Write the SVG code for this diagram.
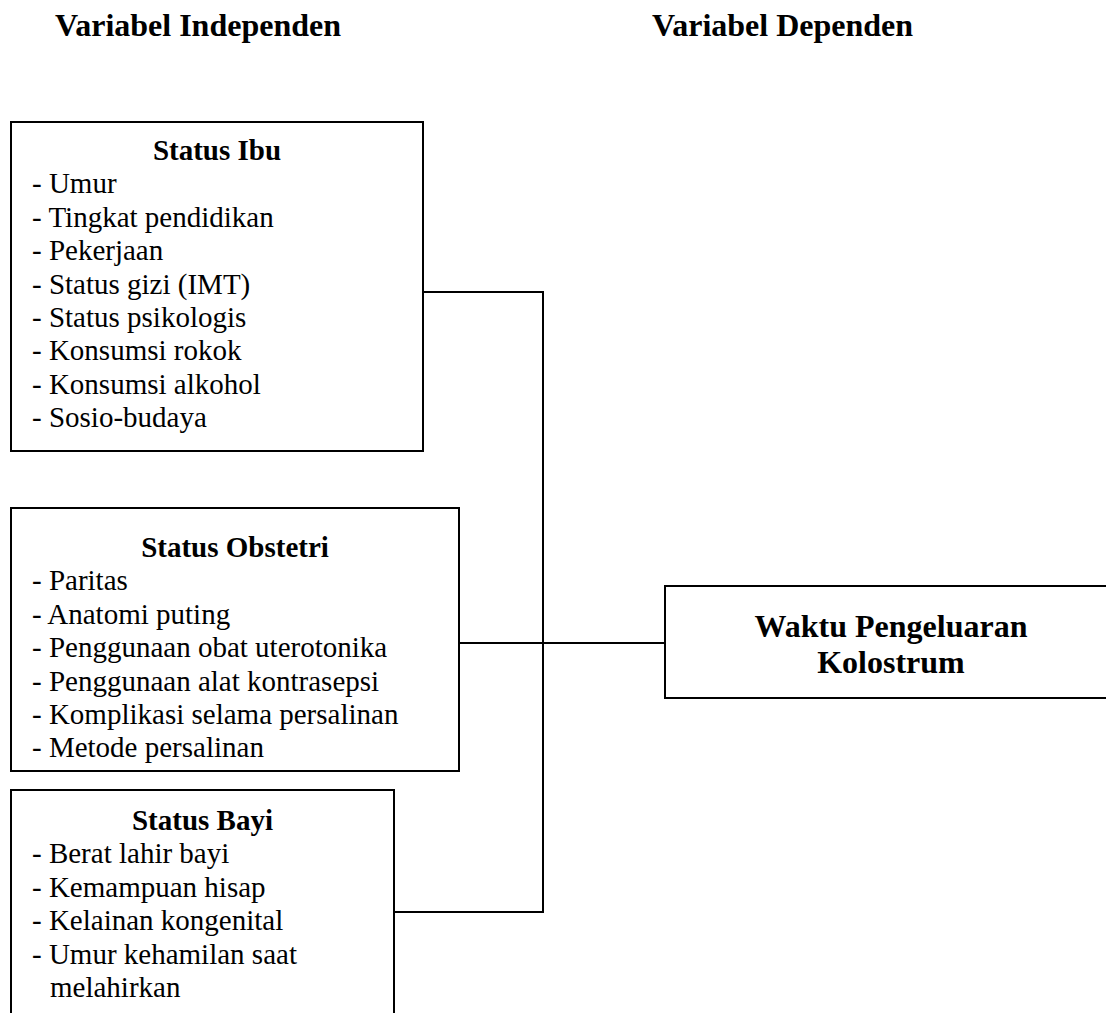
<svg xmlns="http://www.w3.org/2000/svg" width="1106" height="1013" viewBox="0 0 1106 1013">
<style>
text{font-family:"Liberation Serif","Times New Roman",serif;fill:#000}
.hd{font-size:32px;font-weight:bold}
.tt{font-size:29px;font-weight:bold;text-anchor:middle}
.it{font-size:29px}
.box{fill:#fff;stroke:#000;stroke-width:2}
.ln{fill:none;stroke:#000;stroke-width:2}
</style>
<rect width="1106" height="1013" fill="#fff"/>
<text class="hd" x="55" y="36">Variabel Independen</text>
<text class="hd" x="652" y="36">Variabel Dependen</text>
<g id="connectors">
<polyline class="ln" points="423,292 543,292 543,912 394,912"/>
<line class="ln" x1="459" y1="643" x2="665" y2="643"/>
</g>
<g id="status-ibu">
<rect class="box" x="11" y="122" width="412" height="329"/>
<text class="tt" x="217" y="160">Status Ibu</text>
<text class="it" x="32" y="193.4">- Umur</text>
<text class="it" x="32" y="226.8">- Tingkat pendidikan</text>
<text class="it" x="32" y="260.2">- Pekerjaan</text>
<text class="it" x="32" y="293.6">- Status gizi (IMT)</text>
<text class="it" x="32" y="327">- Status psikologis</text>
<text class="it" x="32" y="360.4">- Konsumsi rokok</text>
<text class="it" x="32" y="393.8">- Konsumsi alkohol</text>
<text class="it" x="32" y="427.2">- Sosio-budaya</text>
</g>
<g id="status-obstetri">
<rect class="box" x="11" y="508" width="448" height="263"/>
<text class="tt" x="235" y="557">Status Obstetri</text>
<text class="it" x="32" y="590.4">- Paritas</text>
<text class="it" x="32" y="623.8">- Anatomi puting</text>
<text class="it" x="32" y="657.2">- Penggunaan obat uterotonika</text>
<text class="it" x="32" y="690.6">- Penggunaan alat kontrasepsi</text>
<text class="it" x="32" y="724">- Komplikasi selama persalinan</text>
<text class="it" x="32" y="757.4">- Metode persalinan</text>
</g>
<g id="status-bayi">
<rect class="box" x="11" y="790" width="383" height="240"/>
<text class="tt" x="202.5" y="830">Status Bayi</text>
<text class="it" x="32" y="863.4">- Berat lahir bayi</text>
<text class="it" x="32" y="896.8">- Kemampuan hisap</text>
<text class="it" x="32" y="930.2">- Kelainan kongenital</text>
<text class="it" x="32" y="963.6">- Umur kehamilan saat</text>
<text class="it" x="50" y="997">melahirkan</text>
</g>
<g id="waktu-pengeluaran-kolostrum">
<rect class="box" x="665" y="586" width="460" height="112"/>
<text class="hd" x="891" y="637" text-anchor="middle">Waktu Pengeluaran</text>
<text class="hd" x="891" y="673" text-anchor="middle">Kolostrum</text>
</g>
</svg>
